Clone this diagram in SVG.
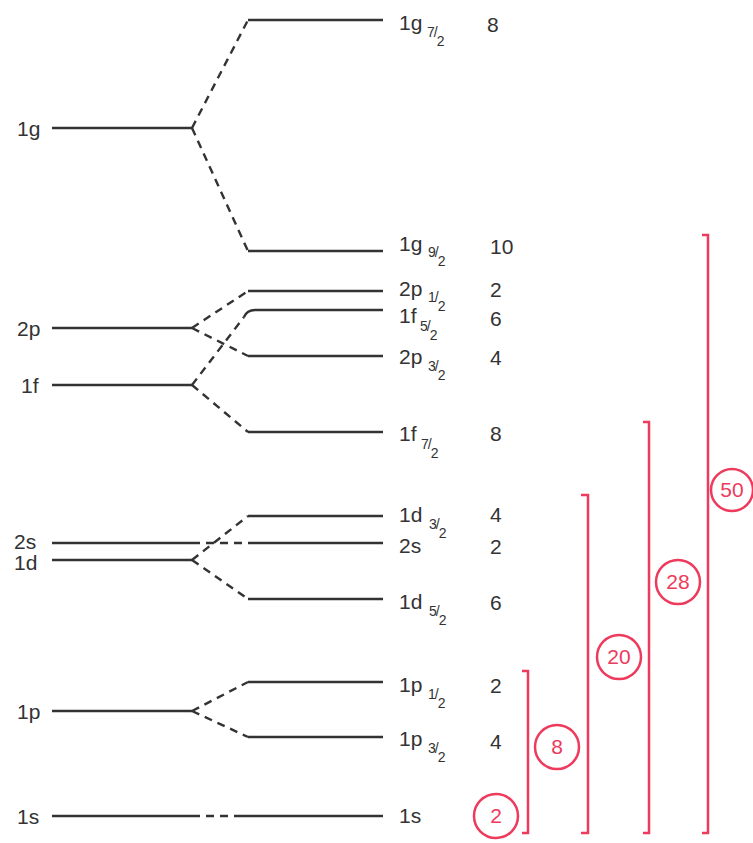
<svg xmlns="http://www.w3.org/2000/svg" width="753" height="843" viewBox="0 0 753 843">
<style>
.lv{stroke:#333;stroke-width:2.4;fill:none}
.ds{stroke:#333;stroke-width:2.4;fill:none;stroke-dasharray:8,6}
.t{font-family:"Liberation Sans",Arial,sans-serif;font-size:21px;fill:#333}
.s{font-family:"Liberation Sans",Arial,sans-serif;font-size:14px;fill:#333;letter-spacing:-1px}
.br{stroke:#ee3a5c;stroke-width:2.5;fill:none}
.c{stroke:#ee3a5c;stroke-width:2.5;fill:#fff}
.ct{font-family:"Liberation Sans",Arial,sans-serif;font-size:21px;fill:#ee3a5c;text-anchor:middle}
</style>
<rect width="753" height="843" fill="#fff"/>
<g id="connectors">
<path class="ds" d="M192,128 L248,20"/>
<path class="ds" d="M192,128 L248,251"/>
<path class="ds" d="M192,328 L248,291"/>
<path class="ds" d="M192,328 L248,356"/>
<path class="ds" d="M192,385 L244,317"/>
<path class="ds" d="M192,385 L248,432"/>
<path class="ds" d="M192,543 L248,543"/>
<path class="ds" d="M192,560 L248,516"/>
<path class="ds" d="M192,560 L248,599"/>
<path class="ds" d="M192,711 L248,682"/>
<path class="ds" d="M192,711 L248,737"/>
<path class="ds" d="M192,816 L240,816"/>
</g>
<g id="left-1g"><path class="lv" d="M52,128 H192"/><text class="t" x="17" y="136">1g</text></g>
<g id="left-2p"><path class="lv" d="M52,328 H192"/><text class="t" x="17" y="336">2p</text></g>
<g id="left-1f"><path class="lv" d="M52,385 H192"/><text class="t" x="21" y="393">1f</text></g>
<g id="left-2s"><path class="lv" d="M52,543 H192"/><text class="t" x="14" y="549">2s</text></g>
<g id="left-1d"><path class="lv" d="M52,560 H192"/><text class="t" x="14" y="570">1d</text></g>
<g id="left-1p"><path class="lv" d="M52,711 H192"/><text class="t" x="17" y="719">1p</text></g>
<g id="left-1s"><path class="lv" d="M52,816 H192"/><text class="t" x="17" y="824">1s</text></g>

<g id="r-1g72"><path class="lv" d="M248,20 H383"/><text class="t" x="399" y="30">1g</text><text class="s" x="427" y="37">7<tspan>/</tspan><tspan dy="9">2</tspan></text><text class="t" x="487" y="32">8</text></g>
<g id="r-1g92"><path class="lv" d="M248,251 H383"/><text class="t" x="399" y="251">1g</text><text class="s" x="428" y="257">9<tspan>/</tspan><tspan dy="9">2</tspan></text><text class="t" x="490" y="254">10</text></g>
<g id="r-2p12"><path class="lv" d="M248,291 H383"/><text class="t" x="399" y="296">2p</text><text class="s" x="428" y="302">1<tspan>/</tspan><tspan dy="9">2</tspan></text><text class="t" x="490" y="297">2</text></g>
<g id="r-1f52"><path class="lv" d="M244,317 Q247,310 255,310 H383"/><text class="t" x="399" y="323">1f</text><text class="s" x="420" y="331">5<tspan>/</tspan><tspan dy="9">2</tspan></text><text class="t" x="490" y="326">6</text></g>
<g id="r-2p32"><path class="lv" d="M248,356 H383"/><text class="t" x="399" y="364">2p</text><text class="s" x="428" y="371">3<tspan>/</tspan><tspan dy="9">2</tspan></text><text class="t" x="490" y="365">4</text></g>
<g id="r-1f72"><path class="lv" d="M248,432 H383"/><text class="t" x="399" y="441">1f</text><text class="s" x="421" y="449">7<tspan>/</tspan><tspan dy="9">2</tspan></text><text class="t" x="490" y="441">8</text></g>
<g id="r-1d32"><path class="lv" d="M248,516 H383"/><text class="t" x="399" y="522">1d</text><text class="s" x="429" y="529">3<tspan>/</tspan><tspan dy="9">2</tspan></text><text class="t" x="490" y="522">4</text></g>
<g id="r-2s"><path class="lv" d="M248,543 H383"/><text class="t" x="399" y="553">2s</text><text class="t" x="490" y="554">2</text></g>
<g id="r-1d52"><path class="lv" d="M248,599 H383"/><text class="t" x="399" y="609">1d</text><text class="s" x="429" y="616">5<tspan>/</tspan><tspan dy="9">2</tspan></text><text class="t" x="490" y="610">6</text></g>
<g id="r-1p12"><path class="lv" d="M248,682 H383"/><text class="t" x="399" y="692">1p</text><text class="s" x="428" y="699">1<tspan>/</tspan><tspan dy="9">2</tspan></text><text class="t" x="490" y="693">2</text></g>
<g id="r-1p32"><path class="lv" d="M248,737 H383"/><text class="t" x="399" y="746">1p</text><text class="s" x="428" y="753">3<tspan>/</tspan><tspan dy="9">2</tspan></text><text class="t" x="490" y="749">4</text></g>
<g id="r-1s"><path class="lv" d="M240,816 H383"/><text class="t" x="399" y="823">1s</text></g>

<g id="magic-2"><circle class="c" cx="496" cy="816" r="22"/><text class="ct" x="496" y="823">2</text></g>
<g id="magic-8"><path class="br" d="M522,671 H528 V833 H522"/><circle class="c" cx="557" cy="747" r="22"/><text class="ct" x="557" y="754">8</text></g>
<g id="magic-20"><path class="br" d="M581,495 H588 V833 H581"/><circle class="c" cx="619" cy="657" r="22"/><text class="ct" x="619" y="664">20</text></g>
<g id="magic-28"><path class="br" d="M643,422 H649 V833 H643"/><circle class="c" cx="678" cy="582" r="22"/><text class="ct" x="678" y="589">28</text></g>
<g id="magic-50"><path class="br" d="M702,235 H708 V833 H702"/><circle class="c" cx="732" cy="490" r="21"/><text class="ct" x="732" y="497">50</text></g>
</svg>
